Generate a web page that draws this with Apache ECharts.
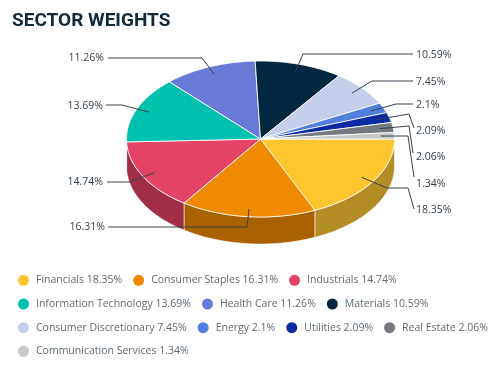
<!DOCTYPE html>
<html>
<head>
<meta charset="utf-8">
<style>
  html, body { margin: 0; padding: 0; background: #fff; }
  #chart { width: 500px; height: 365px; }
</style>
<script src="https://cdn.jsdelivr.net/npm/echarts@6/dist/echarts.min.js"></script>
</head>
<body>
<div id="chart"></div>
<script>
const categories = ['Financials', 'Consumer Staples', 'Industrials', 'Information Technology', 'Health Care', 'Materials',
    'Consumer Discretionary', 'Energy', 'Utilities', 'Real Estate', 'Communication Services'];
const weights = [18.35, 16.31, 14.74, 13.69, 11.26, 10.59, 7.45, 2.1, 2.09, 2.06, 1.34];
const colors = ['#FFC52F', '#F08A00', '#E54365', '#00C1AE', '#6B79D6', '#02283F', '#C5CFEC', '#4F80DE', '#0B2BA5', '#757A80', '#C8C8C8'];
const wallColors = ['#B48C25', '#A96100', '#A12E47', '#00877A', '#4B5596', '#021C2C', '#8A91A5', '#38599C', '#081E74', '#52555A', '#8C8C8C'];

// pie geometry
const cx = 260.5, cy = 139, rx = 134, ry = 78, depth = 27;

// leader line bends and label spots, same order as categories
const leaders = [
    { bend: [[387, 188], [408, 188], [414, 209]], label: [416, 210.5], align: 'left' },
    { bend: [[247, 227], [108, 227]], label: [105, 227.5], align: 'right' },
    { bend: [[129, 182], [107, 182]], label: [103, 182.5], align: 'right' },
    { bend: [[122, 105], [106, 105]], label: [103, 106.5], align: 'right' },
    { bend: [[202, 58], [108, 58]], label: [104, 58.5], align: 'right' },
    { bend: [[303, 54], [413, 54]], label: [416, 55.5], align: 'left' },
    { bend: [[372, 81], [413, 81]], label: [416, 82.5], align: 'left' },
    { bend: [[396, 104], [413, 104]], label: [416, 105], align: 'left' },
    { bend: [[409, 114], [414, 128]], label: [416, 131.5], align: 'left' },
    { bend: [[409, 126], [413, 153]], label: [416, 157.5], align: 'left' },
    { bend: [[408, 136], [414, 177]], label: [416, 184], align: 'left' }
];

const total = weights.reduce((a, b) => a + b, 0);
const legendNames = categories.map((c, i) => c + ' ' + weights[i] + '%');

function point(deg, r, drop) {
    const a = deg * Math.PI / 180;
    return [cx + rx * r * Math.cos(a), cy + ry * r * Math.sin(a) + (drop || 0)];
}

function arcPoints(from, to, drop) {
    const pts = [];
    for (let d = from; d < to; d += 1) pts.push(point(d, 1, drop));
    pts.push(point(to, 1, drop));
    return pts;
}

function makeRender(idx) {
    return function (params, api) {
        const before = weights.slice(0, idx).reduce((a, b) => a + b, 0);
        const start = before / total * 360;
        const end = start + api.value(0) / total * 360;
        const mid = (start + end) / 2;
        const children = [];

        // outer wall, only the front half shows
        const wallEnd = Math.min(end, 180);
        if (start < 180) {
            const wall = arcPoints(start, wallEnd, 0).concat(arcPoints(start, wallEnd, depth).reverse());
            children.push({
                type: 'polygon',
                z2: 1,
                shape: { points: wall },
                style: { fill: wallColors[idx], stroke: 'rgba(255,255,255,0.55)', lineWidth: 1 }
            });
        }

        children.push({
            type: 'polygon',
            z2: 10,
            shape: { points: [[cx, cy]].concat(arcPoints(start, end, 0)) },
            style: { fill: colors[idx], stroke: 'rgba(255,255,255,0.85)', lineWidth: 1 }
        });

        const lead = leaders[idx];
        children.push({
            type: 'polyline',
            z2: 20,
            shape: { points: [point(mid, 0.9)].concat(lead.bend) },
            style: { fill: null, stroke: '#36424C', lineWidth: 1 }
        });
        children.push({
            type: 'text',
            z2: 21,
            style: {
                text: api.value(0) + '%',
                x: lead.label[0],
                y: lead.label[1],
                align: lead.align,
                verticalAlign: 'middle',
                fill: '#36424C',
                font: '10.5px "Open Sans"'
            }
        });
        return { type: 'group', children: children };
    };
}

var dom = document.getElementById('chart');
var myChart = echarts.init(dom, null, { renderer: 'canvas' });

const option = {
    animation: false,
    title: {
        text: 'SECTOR WEIGHTS',
        left: 12,
        top: 12,
        padding: 0,
        textStyle: { fontFamily: 'Roboto', fontWeight: 'bold', fontSize: 19, color: '#12293A' }
    },
    tooltip: { show: false },
    legend: {
        data: legendNames,
        left: 18,
        top: 274,
        width: 478,
        padding: 0,
        icon: 'circle',
        itemWidth: 11,
        itemHeight: 11,
        itemGap: 11,
        textStyle: { fontFamily: 'Open Sans', fontSize: 10.5, color: '#5F6B73', lineHeight: 12.67, padding: [0, 0, 0, 2] }
    },
    series: categories.map((c, i) => ({
        type: 'custom',
        name: legendNames[i],
        coordinateSystem: 'none',
        itemStyle: { color: colors[i] },
        silent: true,
        renderItem: makeRender(i),
        data: [[weights[i]]]
    }))
};

myChart.setOption(option);
window.addEventListener('resize', myChart.resize);
</script>
</body>
</html>
